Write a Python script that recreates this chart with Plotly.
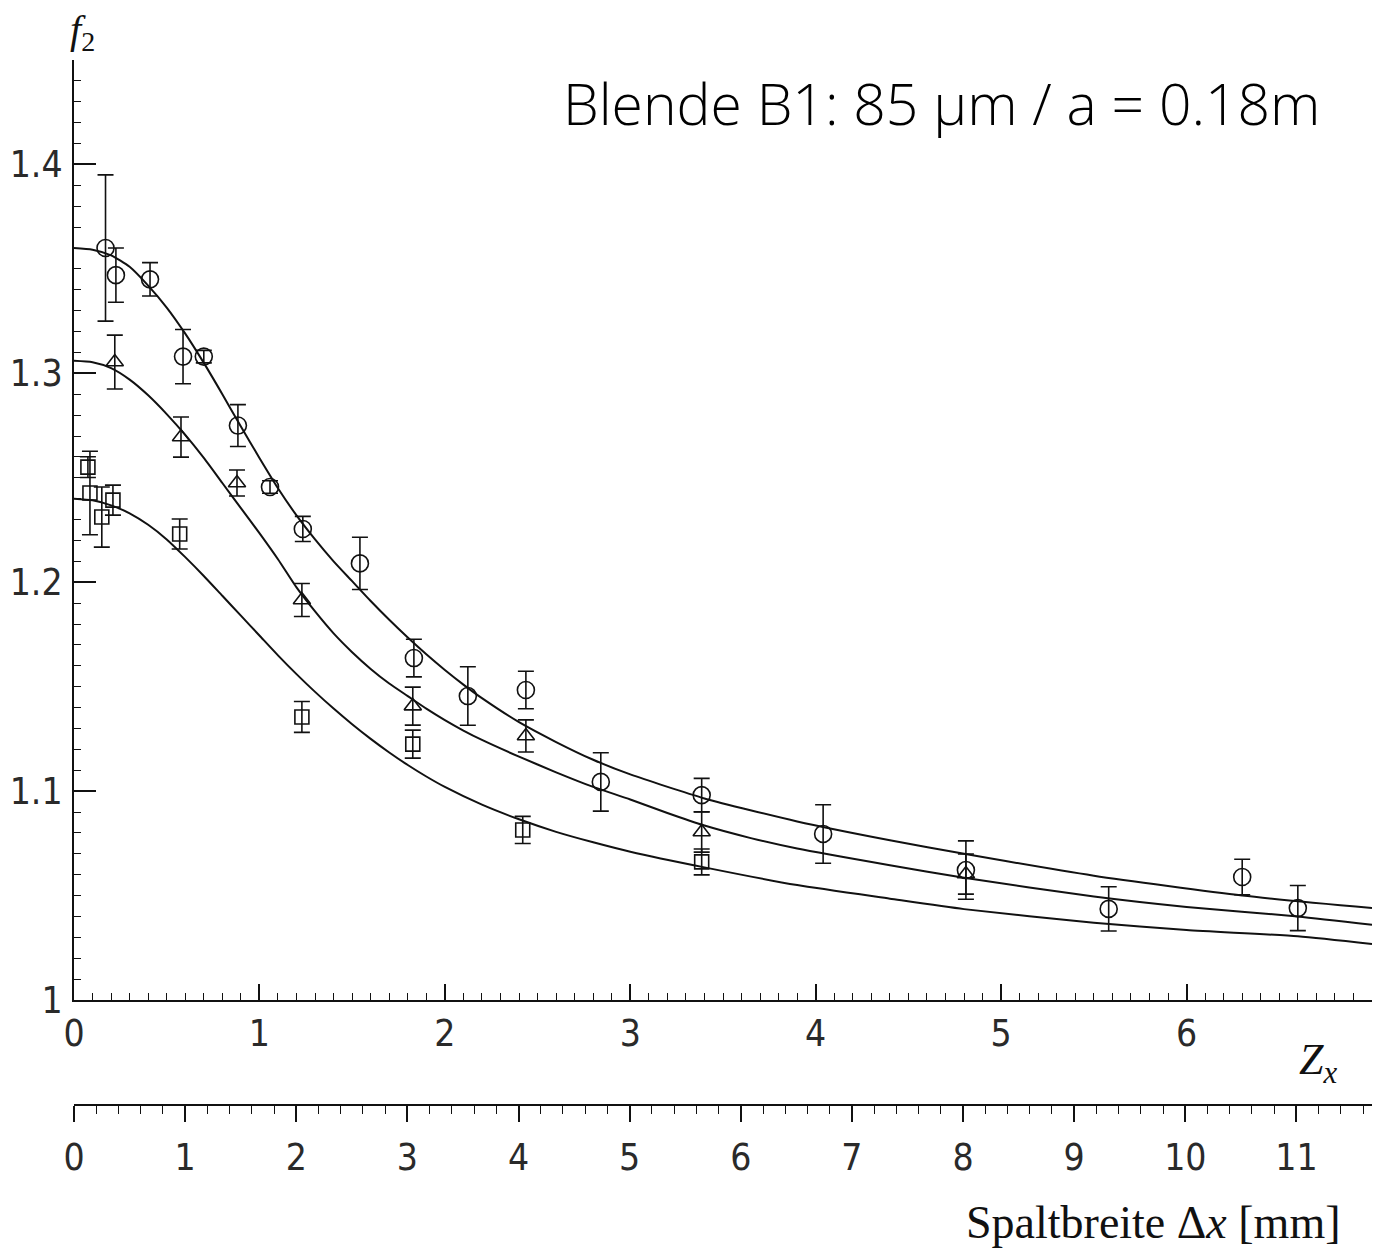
import plotly.graph_objects as go

# ---------------- data ----------------
# open circles
circ_zx = [0.17, 0.226, 0.41, 0.588, 0.70, 0.884, 1.057, 1.234, 1.542, 1.833,
           2.124, 2.437, 2.841, 3.385, 4.04, 4.81, 5.58, 6.30, 6.60]
circ_f2 = [1.360, 1.347, 1.345, 1.308, 1.308, 1.275, 1.2456, 1.2255, 1.209, 1.1637,
           1.1455, 1.1484, 1.1044, 1.0981, 1.0795, 1.0622, 1.0436, 1.0589, 1.044]
circ_err = [0.035, 0.013, 0.008, 0.013, 0.003, 0.010, 0.003, 0.006, 0.0125, 0.009,
            0.014, 0.009, 0.014, 0.008, 0.014, 0.014, 0.0106, 0.0085, 0.0108]

# open triangles
tri_zx = [0.22, 0.577, 0.879, 1.229, 1.827, 2.437, 3.385, 4.81]
tri_f2 = [1.3054, 1.2695, 1.2475, 1.1915, 1.1407, 1.1264, 1.0804, 1.0603]
tri_err = [0.0129, 0.0096, 0.0062, 0.0079, 0.0091, 0.0077, 0.0096, 0.0096]

# open squares
sq_zx = [0.075, 0.086, 0.15, 0.21, 0.57, 1.229, 1.827, 2.42, 3.385]
sq_f2 = [1.2551, 1.2427, 1.2312, 1.2393, 1.2231, 1.1355, 1.1225, 1.0814, 1.0661]
sq_err = [0.005, 0.020, 0.0144, 0.0072, 0.0072, 0.0074, 0.0067, 0.0065, 0.0062]

# fitted curves
fit1_zx = [0, 0.1, 0.2, 0.3, 0.4, 0.5, 0.6, 0.7, 0.8, 0.9, 1.0, 1.1, 1.2, 1.3,
           1.4, 1.5, 1.6, 1.7, 1.8, 1.9, 2.0, 2.1, 2.2, 2.4, 2.6, 2.8, 3.0, 3.4,
           3.9, 4.4, 4.8, 5.5, 6.3, 7.0]
fit1_f2 = [1.3600, 1.3592, 1.3565, 1.3510, 1.3420, 1.3315, 1.3190, 1.3050, 1.2900,
           1.2745, 1.2595, 1.2450, 1.2320, 1.2205, 1.2100, 1.2005, 1.1910, 1.1820,
           1.1735, 1.1655, 1.1580, 1.1510, 1.1445, 1.1330, 1.1235, 1.1150, 1.1080,
           1.0965, 1.0855, 1.0765, 1.0700, 1.0595, 1.0500, 1.0440]

fit2_zx = [0, 0.1, 0.2, 0.3, 0.4, 0.5, 0.6, 0.7, 0.8, 0.9, 1.0, 1.1, 1.2, 1.3,
           1.4, 1.5, 1.6, 1.7, 1.8, 1.9, 2.0, 2.1, 2.2, 2.4, 2.6, 2.8, 3.0, 3.2,
           3.4, 3.65, 3.9, 4.4, 4.8, 5.5, 6.0, 6.6, 7.0]
fit2_f2 = [1.3060, 1.3053, 1.3025, 1.2970, 1.2895, 1.2805, 1.2705, 1.2595, 1.2475,
           1.2355, 1.2235, 1.2110, 1.1975, 1.1860, 1.1755, 1.1665, 1.1585, 1.1515,
           1.1455, 1.1395, 1.1340, 1.1290, 1.1245, 1.1165, 1.1090, 1.1020, 1.0960,
           1.0895, 1.0835, 1.0775, 1.0725, 1.0645, 1.0585, 1.0495, 1.0445, 1.0400,
           1.0360]

fit3_zx = [0, 0.1, 0.2, 0.3, 0.4, 0.5, 0.6, 0.7, 0.8, 0.9, 1.0, 1.1, 1.2, 1.3,
           1.4, 1.5, 1.6, 1.7, 1.8, 1.9, 2.0, 2.2, 2.4, 2.6, 2.8, 3.0, 3.4, 3.9,
           4.4, 4.8, 5.5, 6.0, 6.6, 7.0]
fit3_f2 = [1.2400, 1.2392, 1.2368, 1.2330, 1.2275, 1.2205, 1.2120, 1.2030, 1.1935,
           1.1840, 1.1745, 1.1650, 1.1560, 1.1475, 1.1395, 1.1320, 1.1250, 1.1185,
           1.1125, 1.1070, 1.1020, 1.0935, 1.0865, 1.0805, 1.0755, 1.0710, 1.0635,
           1.0550, 1.0485, 1.0435, 1.0370, 1.0335, 1.0305, 1.0268]

# axis ticks
zx_ticks = [0, 1, 2, 3, 4, 5, 6]
zx_labels = ["0", "1", "2", "3", "4", "5", "6"]
f2_ticks = [1.0, 1.1, 1.2, 1.3, 1.4]
f2_labels = ["1", "1.1", "1.2", "1.3", "1.4"]
dx_ticks = [0, 1, 2, 3, 4, 5, 6, 7, 8, 9, 10, 11]
dx_labels = ["0", "1", "2", "3", "4", "5", "6", "7", "8", "9", "10", "11"]

# ---------------- layout geometry ----------------
W, H = 1381, 1252
ML, MR, MT, MB = 74, 9, 60, 40
PW, PH = W - ML - MR, H - MT - MB


def px_x(px):
    return (px - ML) / PW


def px_y(py):
    return (H - MB - py) / PH


Y_BOTTOM_PX = 1000
AX2_PX = 1105

INK = "#111111"
TXT = "#2a2a2a"
tick_font = dict(family="DejaVu Sans Condensed, DejaVu Sans, sans-serif", size=37, color=TXT)

fig = go.Figure()

for fx, fy in [(fit1_zx, fit1_f2), (fit2_zx, fit2_f2), (fit3_zx, fit3_f2)]:
    fig.add_trace(go.Scatter(x=fx, y=fy, mode="lines",
                             line=dict(color=INK, width=2, shape="spline", smoothing=0.6),
                             hoverinfo="skip", showlegend=False))


def pts(x, y, e, symbol, size):
    return go.Scatter(
        x=x, y=y, mode="markers",
        marker=dict(symbol=symbol, size=size, color=INK,
                    line=dict(color=INK, width=1.6)),
        error_y=dict(type="data", array=e, visible=True, color=INK,
                     thickness=1.6, width=8),
        showlegend=False)


fig.add_trace(pts(sq_zx, sq_f2, sq_err, "square-open", 14))
fig.add_trace(pts(tri_zx, tri_f2, tri_err, "triangle-up-open", 15))
fig.add_trace(pts(circ_zx, circ_f2, circ_err, "circle-open", 17))

fig.update_layout(
    width=W, height=H,
    margin=dict(l=ML, r=MR, t=MT, b=MB, autoexpand=False),
    paper_bgcolor="white", plot_bgcolor="white",
    showlegend=False,
    xaxis=dict(
        range=[0, 7], showgrid=False, zeroline=False,
        showline=True, linecolor=INK, linewidth=2, mirror=False,
        ticks="inside", ticklen=16, tickwidth=1.6, tickcolor=INK,
        tickvals=zx_ticks, ticktext=zx_labels, tickfont=tick_font,
        ticklabelstandoff=0,
        minor=dict(dtick=0.1, ticks="inside", ticklen=7, tickwidth=1.3, tickcolor=INK),
        anchor="y",
    ),
    yaxis=dict(
        range=[1.0, 1.45], domain=[px_y(Y_BOTTOM_PX), 1], showgrid=False, zeroline=False,
        showline=True, linecolor=INK, linewidth=2,
        ticks="inside", ticklen=22, tickwidth=1.6, tickcolor=INK,
        tickvals=f2_ticks, ticktext=f2_labels, tickfont=tick_font,
        ticklabelstandoff=2,
        minor=dict(dtick=0.01, ticks="inside", ticklen=7, tickwidth=1.3, tickcolor=INK),
    ),
    xaxis2=dict(
        range=[0, 11.68], overlaying="x", anchor="free", position=px_y(AX2_PX),
        side="bottom", showgrid=False, zeroline=False,
        showline=True, linecolor=INK, linewidth=2,
        ticks="outside", ticklen=16, tickwidth=1.6, tickcolor=INK,
        tickvals=dx_ticks, ticktext=dx_labels, tickfont=tick_font,
        ticklabelstandoff=4,
        minor=dict(dtick=0.2, ticks="outside", ticklen=8, tickwidth=1.3, tickcolor=INK),
    ),
)

# an empty trace so the second scale is drawn
fig.add_trace(go.Scatter(x=[], y=[], xaxis="x2", yaxis="y", showlegend=False))

serif = "Liberation Serif, DejaVu Serif, serif"


def label(px, py, text, size, family=serif, xanchor="center", weight=None, color=INK):
    font = dict(family=family, size=size, color=color)
    if weight is not None:
        font["weight"] = weight
    fig.add_annotation(x=px_x(px), y=px_y(py), xref="paper", yref="paper",
                       xanchor=xanchor, yanchor="middle", text=text,
                       showarrow=False, font=font)


label(82, 32, "<i>f</i><sub>2</sub>", 40)
label(1318, 1062, "<i>Z</i><sub><i>x</i></sub>", 44)
label(1342, 1222, "Spaltbreite Δ<i>x</i> [mm]", 46, xanchor="right")
label(1322, 103, "Blende B1: 85 µm / a = 0.18m", 57,
      family="Open Sans, sans-serif", xanchor="right", weight=300, color="black")

fig.write_html("out.html")
